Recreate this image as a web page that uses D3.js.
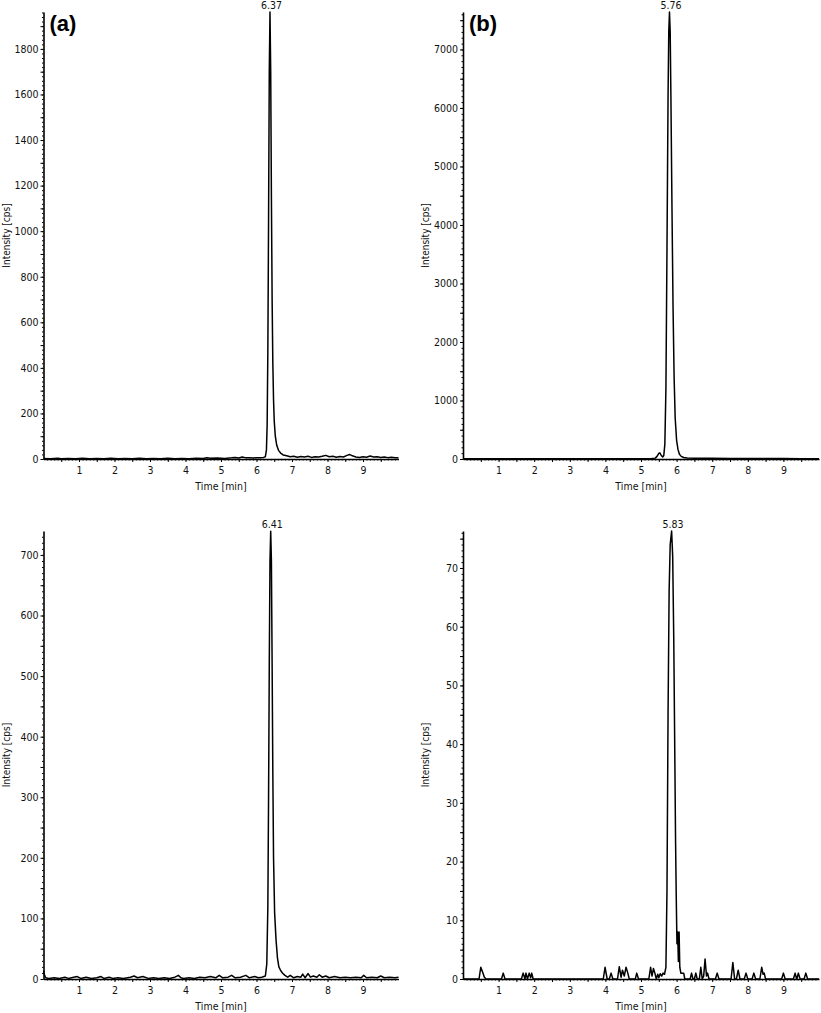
<!DOCTYPE html>
<html>
<head>
<meta charset="utf-8">
<script src="https://cdn.jsdelivr.net/npm/d3@7"></script>
<style>
  body { margin: 0; background: #fff; }
  svg { display: block; }
  text { font-family: "DejaVu Sans Condensed", "DejaVu Sans", sans-serif; font-stretch: condensed; fill: #111; }
  .axis path, .axis line { stroke: #000; }
  .axis .domain { stroke-width: 1.6; }
  .panel-tag { font-family: "Liberation Sans", Arial, sans-serif; font-stretch: normal; font-weight: bold; font-size: 22px; fill: #000; }
  .trace { fill: none; stroke: #000; stroke-width: 1.5; stroke-linejoin: round; }
</style>
</head>
<body>
<div id="chart"></div>
<script>
// time axis labels (min)
const timeTicks = [1, 2, 3, 4, 5, 6, 7, 8, 9];

// intensity ticks per panel (cps)
const ticksA = [0, 200, 400, 600, 800, 1000, 1200, 1400, 1600, 1800];
const ticksB = [0, 1000, 2000, 3000, 4000, 5000, 6000, 7000];
const ticksC = [0, 100, 200, 300, 400, 500, 600, 700];
const ticksD = [0, 10, 20, 30, 40, 50, 60, 70];

// axis maxima (top of each y axis)
const maxA = 1962;
const maxB = 7640;
const maxC = 739.5;
const maxD = 76.3;

// peak annotations: [label, apex time]
const peakA = ['6.37', 6.38];
const peakB = ['5.76', 5.80];
const peakC = ['6.41', 6.40];
const peakD = ['5.83', 5.86];

// traces [time, intensity]
const traceA = [
  [0, 2], [0.2, 1], [0.4, 3], [0.5, 1], [0.7, 2], [0.9, 1], [1.1, 3], [1.3, 1], [1.5, 2], [1.7, 1],
  [1.9, 3], [2.1, 1], [2.3, 2], [2.5, 1], [2.7, 3], [2.9, 1], [3.1, 2], [3.3, 1], [3.5, 3], [3.7, 1],
  [3.9, 2], [4.1, 1], [4.3, 3], [4.5, 2], [4.6, 5], [4.7, 3], [4.9, 4], [5.1, 2], [5.3, 5], [5.4, 7],
  [5.5, 4], [5.6, 9], [5.7, 5], [5.8, 6], [5.9, 4], [6.0, 6], [6.1, 5], [6.2, 7], [6.25, 10], [6.28, 40],
  [6.30, 150], [6.32, 480], [6.34, 1050], [6.36, 1700], [6.38, 1962], [6.40, 1700], [6.42, 1150],
  [6.44, 700], [6.46, 420], [6.48, 260], [6.50, 165], [6.53, 100], [6.57, 60], [6.62, 38], [6.68, 26],
  [6.75, 18], [6.85, 14], [6.95, 10], [7.05, 12], [7.15, 8], [7.25, 11], [7.35, 9], [7.45, 12],
  [7.55, 7], [7.65, 10], [7.75, 9], [7.85, 12], [7.95, 16], [8.05, 10], [8.15, 12], [8.25, 8],
  [8.35, 11], [8.45, 9], [8.55, 16], [8.62, 20], [8.7, 14], [8.8, 9], [8.9, 7], [9.0, 10], [9.1, 8],
  [9.2, 13], [9.3, 9], [9.4, 10], [9.5, 7], [9.6, 9], [9.7, 6], [9.8, 8], [9.9, 5], [10, 6],
];

const traceB = [
  [0, 5], [0.5, 3], [1, 6], [1.5, 4], [2, 5], [2.5, 3], [3, 6], [3.5, 4], [4, 5], [4.5, 3], [5, 6],
  [5.3, 8], [5.4, 15], [5.45, 45], [5.50, 95], [5.53, 105], [5.57, 60], [5.61, 35], [5.64, 60],
  [5.67, 250], [5.70, 1200], [5.73, 3600], [5.76, 6200], [5.78, 7300], [5.80, 7640], [5.82, 7300],
  [5.84, 6200], [5.87, 4300], [5.90, 2600], [5.93, 1400], [5.96, 700], [6.00, 320], [6.04, 160],
  [6.08, 80], [6.13, 45], [6.20, 25], [6.3, 18], [6.5, 14], [7, 12], [7.5, 10], [8, 9], [8.5, 8],
  [9, 7], [9.5, 6], [10, 5],
];

const traceC = [
  [0, 14], [0.03, 6], [0.06, 2], [0.15, 1], [0.3, 2], [0.45, 1], [0.6, 3], [0.7, 1], [0.85, 3],
  [0.95, 4], [1.05, 1], [1.2, 3], [1.35, 1], [1.5, 2], [1.62, 4], [1.7, 1], [1.85, 3], [1.95, 1],
  [2.1, 2], [2.25, 1], [2.45, 3], [2.55, 5], [2.65, 2], [2.8, 4], [2.95, 1], [3.1, 2], [3.25, 1],
  [3.4, 2], [3.55, 1], [3.7, 3], [3.8, 6], [3.87, 2], [3.95, 1], [4.1, 2], [4.25, 1], [4.4, 3],
  [4.55, 2], [4.7, 4], [4.85, 2], [4.95, 6], [5.05, 2], [5.2, 3], [5.3, 6], [5.4, 2], [5.55, 3],
  [5.7, 6], [5.8, 2], [5.95, 4], [6.05, 2], [6.15, 3], [6.25, 5], [6.29, 25], [6.32, 120], [6.34, 300],
  [6.36, 520], [6.38, 690], [6.40, 739], [6.42, 690], [6.44, 520], [6.46, 340], [6.48, 200],
  [6.51, 110], [6.55, 65], [6.59, 35], [6.63, 20], [6.68, 14], [6.73, 10], [6.8, 6], [6.88, 3],
  [6.95, 6], [7.05, 2], [7.15, 4], [7.25, 3], [7.3, 8], [7.37, 2], [7.45, 9], [7.52, 3], [7.6, 5],
  [7.7, 3], [7.77, 7], [7.85, 3], [7.95, 5], [8.05, 2], [8.2, 4], [8.35, 2], [8.5, 3], [8.65, 2],
  [8.8, 3], [8.95, 2], [9.02, 6], [9.1, 2], [9.25, 3], [9.4, 2], [9.5, 5], [9.6, 2], [9.75, 3],
  [9.9, 2], [10, 3],
];

const traceD = [
  [0, 0], [0.45, 0], [0.5, 2], [0.55, 1.2], [0.6, 0.3], [0.65, 0], [1.08, 0], [1.13, 1], [1.18, 0],
  [1.64, 0], [1.69, 1], [1.74, 0], [1.77, 1], [1.81, 0], [1.86, 1], [1.9, 0.2], [1.93, 1], [1.97, 0],
  [3.94, 0], [3.99, 2], [4.05, 0], [4.11, 0], [4.16, 1], [4.21, 0], [4.34, 0], [4.39, 2.1],
  [4.44, 0.3], [4.48, 1.5], [4.53, 0.5], [4.58, 2], [4.63, 1], [4.67, 0], [4.84, 0], [4.88, 1],
  [4.93, 0], [5.22, 0], [5.27, 2], [5.31, 0.5], [5.35, 1.8], [5.39, 1], [5.43, 0], [5.47, 0.8],
  [5.5, 0.2], [5.54, 0.9], [5.58, 0.5], [5.62, 1], [5.66, 0.8], [5.70, 2], [5.73, 15], [5.76, 45],
  [5.79, 66], [5.82, 74], [5.86, 76.3], [5.89, 72], [5.92, 58], [5.95, 38], [5.97, 24], [5.99, 14],
  [6.01, 6], [6.03, 8], [6.05, 3], [6.07, 8], [6.09, 2], [6.12, 1], [6.16, 1], [6.2, 1], [6.23, 0],
  [6.38, 0], [6.42, 1], [6.46, 0], [6.5, 0], [6.54, 1], [6.58, 0], [6.64, 0], [6.68, 2], [6.72, 0],
  [6.76, 0.5], [6.8, 3.4], [6.84, 0.5], [6.87, 1], [6.91, 0], [7.09, 0], [7.14, 1], [7.19, 0],
  [7.53, 0], [7.58, 2.8], [7.63, 0], [7.68, 0], [7.73, 1.5], [7.78, 0], [7.9, 0], [7.95, 1], [8.0, 0],
  [8.12, 0], [8.17, 1], [8.22, 0], [8.34, 0], [8.39, 2], [8.43, 0.8], [8.46, 1], [8.5, 0], [8.95, 0],
  [9.0, 1], [9.05, 0], [9.28, 0], [9.33, 1], [9.37, 0], [9.38, 0], [9.42, 1], [9.47, 0], [9.58, 0],
  [9.63, 1], [9.68, 0], [10, 0],
];

const W = 821;
const H = 1013;

const panels = [
  { tag: '(a)', trace: traceA, ticks: ticksA, max: maxA, peak: peakA, left: 43.5, right: 398.5, top: 12, bottom: 459 },
  { tag: '(b)', trace: traceB, ticks: ticksB, max: maxB, peak: peakB, left: 463, right: 819, top: 12, bottom: 459 },
  { tag: null, trace: traceC, ticks: ticksC, max: maxC, peak: peakC, left: 43.5, right: 398.5, top: 531, bottom: 979 },
  { tag: null, trace: traceD, ticks: ticksD, max: maxD, peak: peakD, left: 463, right: 819, top: 531, bottom: 979 },
];

const svg = d3.select('#chart')
  .append('svg')
  .attr('width', W)
  .attr('height', H);

panels.forEach((p) => {
  const x = d3.scaleLinear().domain([0, 10]).range([p.left, p.right]);
  const y = d3.scaleLinear().domain([0, p.max]).range([p.bottom, p.top]);
  const step = p.ticks[1] - p.ticks[0];

  const g = svg.append('g');

  // fine minor ticks, y
  const fineY = d3.range(0, p.max, step / 10);
  g.append('g')
    .attr('class', 'axis')
    .attr('transform', `translate(${p.left},0)`)
    .call(d3.axisLeft(y).tickValues(fineY).tickSize(1.5).tickSizeOuter(0).tickFormat(''))
    .call((a) => a.select('.domain').remove())
    .call((a) => a.selectAll('line').attr('stroke', '#555'));

  // half-step ticks, y
  g.append('g')
    .attr('class', 'axis')
    .attr('transform', `translate(${p.left},0)`)
    .call(d3.axisLeft(y).tickValues(d3.range(step / 2, p.max, step)).tickSize(3).tickSizeOuter(0).tickFormat(''))
    .call((a) => a.select('.domain').remove());

  // major y axis
  g.append('g')
    .attr('class', 'axis')
    .attr('transform', `translate(${p.left},0)`)
    .call(d3.axisLeft(y).tickValues(p.ticks).tickSize(3).tickSizeOuter(0).tickPadding(2).tickFormat(d3.format('d')))
    .call((a) => a.selectAll('text').attr('font-size', 10.5).attr('font-family', null));

  // minor x ticks
  g.append('g')
    .attr('class', 'axis')
    .attr('transform', `translate(0,${p.bottom})`)
    .call(d3.axisBottom(x).tickValues(d3.range(0.5, 10, 1)).tickSize(3).tickSizeOuter(0).tickFormat(''))
    .call((a) => a.select('.domain').remove());

  g.append('g')
    .attr('class', 'axis')
    .attr('transform', `translate(0,${p.bottom})`)
    .call(d3.axisBottom(x).tickValues(d3.range(0.1, 10, 0.1)).tickSize(1.5).tickSizeOuter(0).tickFormat(''))
    .call((a) => a.select('.domain').remove())
    .call((a) => a.selectAll('line').attr('stroke', '#555'));

  // major x axis
  g.append('g')
    .attr('class', 'axis')
    .attr('transform', `translate(0,${p.bottom})`)
    .call(d3.axisBottom(x).tickValues(timeTicks).tickSize(3).tickSizeOuter(0).tickPadding(5))
    .call((a) => a.selectAll('text').attr('font-size', 10.5).attr('font-family', null));

  // trace
  g.append('path')
    .datum(p.trace)
    .attr('class', 'trace')
    .attr('d', d3.line().x((d) => x(d[0])).y((d) => y(d[1])));

  // peak label
  g.append('text')
    .attr('x', x(p.peak[1]) + 1.5)
    .attr('y', p.top - 3)
    .attr('text-anchor', 'middle')
    .attr('font-size', 10.5)
    .text(p.peak[0]);

  // axis titles
  g.append('text')
    .attr('x', (p.left + p.right) / 2)
    .attr('y', p.bottom + 31)
    .attr('text-anchor', 'middle')
    .attr('font-size', 10.5)
    .text('Time [min]');

  g.append('text')
    .attr('transform', `translate(${p.left - 34},${(p.top + p.bottom) / 2}) rotate(-90)`)
    .attr('text-anchor', 'middle')
    .attr('font-size', 10)
    .text('Intensity [cps]');

  if (p.tag) {
    g.append('text')
      .attr('class', 'panel-tag')
      .attr('x', p.left + 6)
      .attr('y', p.top + 19)
      .text(p.tag);
  }
});
</script>
</body>
</html>
